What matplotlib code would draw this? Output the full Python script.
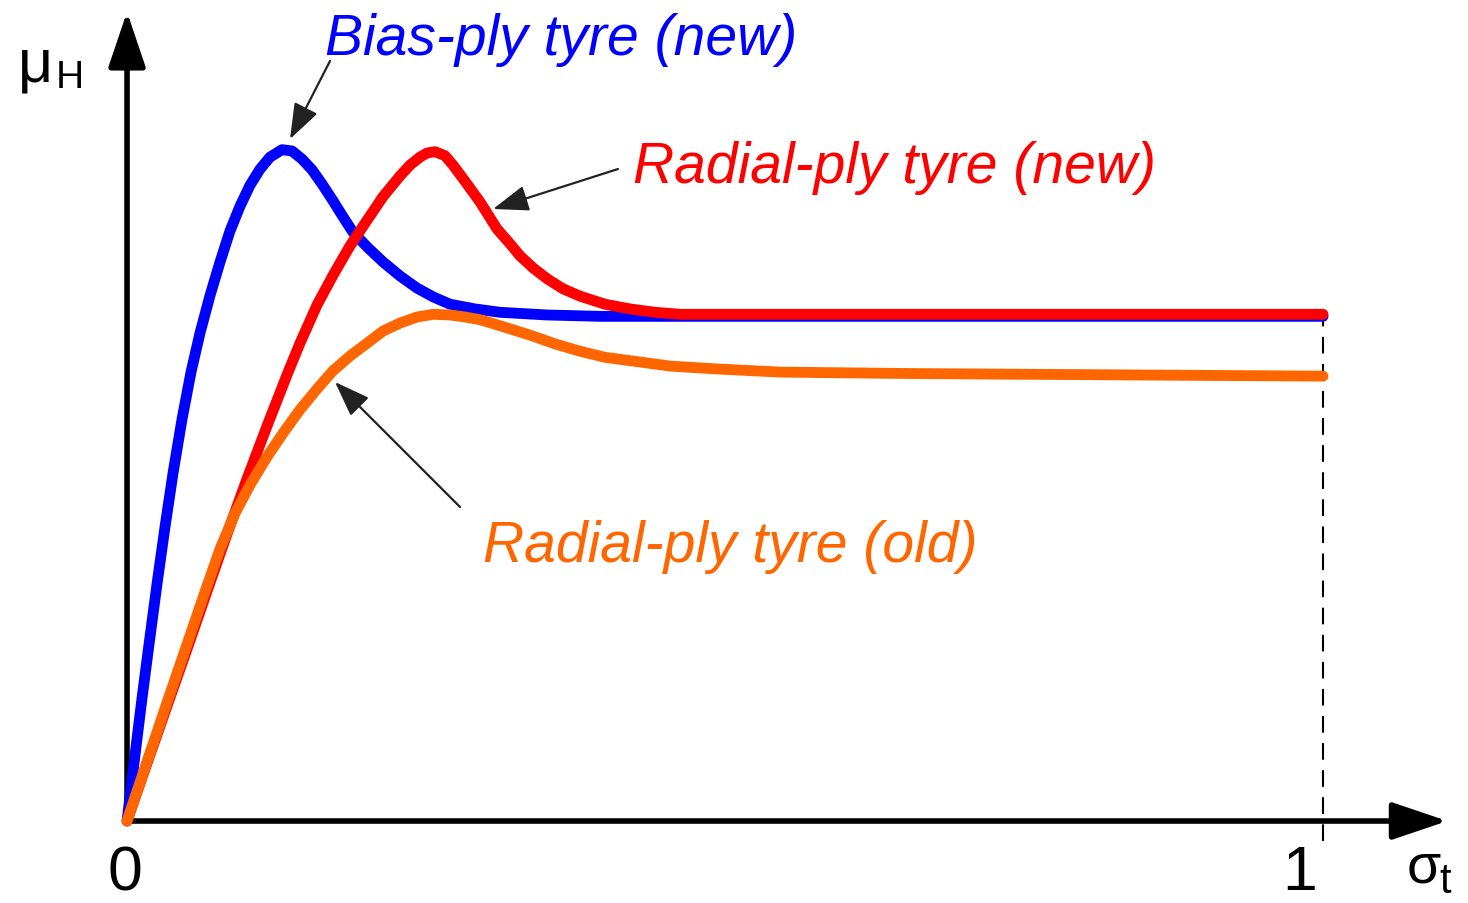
import matplotlib.pyplot as plt

# slip sigma_t (0..1) and friction coefficient mu_H (bias-ply peak = 1)
sigma_bias = [0, .0033, .0075, .0125, .0184, .0251, .0318, .0385, .0460, .0535, .0610,
              .0694, .0778, .0861, .0945, .1028, .1112, .1196, .1296, .1380, .1463, .1547,
              .1630, .1722, .1806, .1890, .2015, .2140, .2283, .2425, .2559, .2701, .2910,
              .3119, .3512, .3955, 1.0]
mu_bias = [0, .049, .110, .182, .263, .353, .438, .518, .598, .668, .726,
           .782, .832, .878, .915, .946, .970, .988, .999, .997, .985, .969,
           .948, .923, .899, .876, .853, .832, .811, .793, .780, .769, .762,
           .757, .753, .751, .751]

sigma_radial_new = [0, .0167, .0334, .0502, .0669, .0836, .1003, .1171, .1338, .1446, .1589,
                    .1722, .1865, .2007, .2140, .2283, .2366, .2450, .2508, .2575, .2659,
                    .2726, .2826, .2952, .3094, .3202, .3286, .3395, .3512, .3645, .3788,
                    .3997, .4206, .4415, .4624, 1.0]
mu_radial_new = [0, .086, .171, .256, .342, .427, .509, .588, .664, .711, .768,
                 .812, .856, .894, .929, .960, .976, .988, .994, .996, .990,
                 .976, .952, .921, .881, .859, .841, .823, .807, .792, .781,
                 .769, .762, .757, .754, .754]

sigma_radial_old = [0, .0167, .0334, .0502, .0652, .0778, .0903, .1028, .1171, .1304, .1446,
                    .1589, .1722, .1865, .2007, .2140, .2283, .2425, .2559, .2701, .2826,
                    .2952, .3119, .3370, .3579, .3788, .3997, .4206, .4540, .4900, .5460,
                    .6463, .7299, 1.0]
mu_radial_old = [0, .088, .176, .263, .341, .405, .458, .500, .542, .577, .612,
                 .643, .670, .692, .711, .729, .741, .750, .754, .753, .750,
                 .746, .737, .723, .710, .699, .690, .685, .677, .673, .668,
                 .666, .665, .662]

BLUE = '#0000FF'
RED = '#FF0000'
ORANGE = '#FF6600'

fig = plt.figure(figsize=(14.68, 9.04), dpi=100)
ax = fig.add_axes([0, 0, 1, 1])
ax.set_xlim(-0.1062, 1.1212)
ax.set_ylim(-0.122, 1.2232)
ax.axis('off')

# axes with arrow heads
axis_style = dict(arrowstyle='-|>,head_length=3.4,head_width=1.15', color='black',
                  lw=4.0, shrinkA=0, shrinkB=0, mutation_scale=10)
ax.annotate('', xy=(1.104, 0), xytext=(0, 0), arrowprops=axis_style, zorder=1)
ax.annotate('', xy=(0, 1.204), xytext=(0, 0), arrowprops=axis_style, zorder=1)

# dashed marker at sigma = 1
ax.plot([1.0, 1.0], [-0.03, mu_radial_new[-1]], color='black', lw=1.5,
        dashes=(8, 5), zorder=1)

line_kw = dict(lw=7.8, solid_capstyle='round', solid_joinstyle='round')
ax.plot(sigma_bias, mu_bias, color=BLUE, zorder=2, **line_kw)
ax.plot(sigma_radial_new, mu_radial_new, color=RED, zorder=3, **line_kw)
ax.plot(sigma_radial_old, mu_radial_old, color=ORANGE, zorder=4, **line_kw)

# labels with pointer arrows
def px(x, y):
    return (x - 127) / 1196, (822 - y) / 672

ptr = dict(arrowstyle='-|>,head_length=2.2,head_width=0.8', color='#222222',
           lw=1.6, shrinkA=0, shrinkB=0, mutation_scale=10)
lab_kw = dict(fontsize=41, style='italic', family='Liberation Sans',
              ha='left', va='baseline')

ax.text(*px(325, 55), 'Bias-ply tyre (new)', color=BLUE, **lab_kw)
ax.annotate('', xy=px(290, 140), xytext=px(330, 62), arrowprops=ptr)

ax.text(*px(633, 183), 'Radial-ply tyre (new)', color=RED, **lab_kw)
ax.annotate('', xy=px(493, 210), xytext=px(618, 170), arrowprops=ptr)

ax.text(*px(483, 562), 'Radial-ply tyre (old)', color=ORANGE, **lab_kw)
ax.annotate('', xy=px(335, 383), xytext=px(460, 508), arrowprops=ptr)

# axis labels
txt = dict(family='Liberation Sans', color='black', va='baseline')
ax.text(*px(18, 82), 'μ', fontsize=44, ha='left', **txt)
ax.text(*px(56, 88), 'H', fontsize=28, ha='left', **txt)
ax.text(*px(1407, 882), 'σ', fontsize=40, ha='left', **txt)
ax.text(*px(1439, 893), 't', fontsize=30, ha='left', **txt)
ax.text(*px(125, 890), '0', fontsize=45, ha='center', **txt)
ax.text(*px(1300, 890), '1', fontsize=45, ha='center', **txt)

fig.savefig('out.png', dpi=100)
